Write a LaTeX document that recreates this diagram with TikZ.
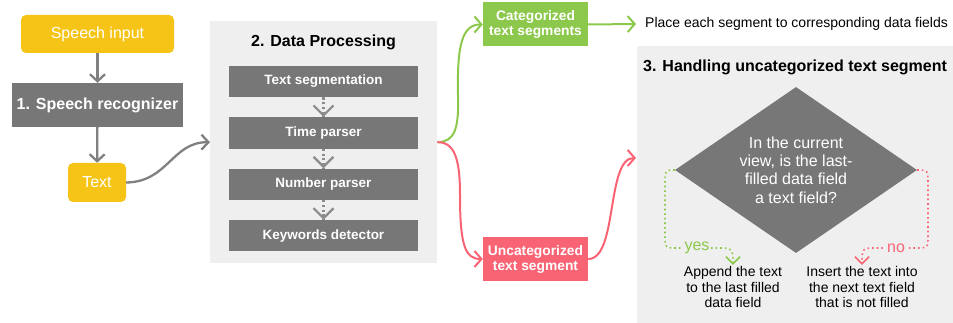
\documentclass[tikz,border=0pt]{standalone}
\usepackage{fontspec}
\setmainfont{Liberation Sans}
\usetikzlibrary{positioning, shapes.geometric, arrows.meta, calc, decorations.markings}

\definecolor{boxyellow}{HTML}{F6C416}
\definecolor{boxgray}{HTML}{777777}
\definecolor{panelgray}{HTML}{EFEFEF}
\definecolor{linegray}{HTML}{808080}
\definecolor{dotgray}{HTML}{8C8C8C}
\definecolor{catgreen}{HTML}{8CC84B}
\definecolor{uncatred}{HTML}{F96475}

\begin{document}
\begin{tikzpicture}[
  x=1pt, y=-1pt,
  font=\fontsize{16}{18}\selectfont,
  startbox/.style={
    rectangle,
    rounded corners=5pt,
    fill=boxyellow,
    text=white,
    inner sep=0pt,
  },
  stage/.style={
    rectangle,
    fill=boxgray,
    text=white,
    font=\fontsize{16}{18}\selectfont\bfseries,
    inner sep=0pt,
  },
  parser/.style={
    rectangle,
    fill=boxgray,
    text=white,
    font=\fontsize{13.5}{16}\selectfont\bfseries,
    minimum width=189pt,
    minimum height=31.5pt,
    inner sep=0pt,
  },
  panel/.style={rectangle, fill=panelgray, inner sep=0pt, anchor=north west},
  segbox/.style={
    rectangle,
    text=white,
    font=\fontsize{13.8}{15}\selectfont\bfseries,
    align=center,
    minimum width=105pt,
    minimum height=44pt,
    inner sep=0pt,
  },
  result/.style={align=center, font=\fontsize{14}{15.8}\selectfont, inner sep=1pt},
  flow/.style={draw=linegray, line width=2.3pt, -{Straight Barb[length=7pt,width=15pt]}},
  % dotted line, solid tip
  solidtip/.style={postaction={decorate, decoration={markings,
    mark=at position 1 with {\arrow[solid]{#1}}}}},
  stepflow/.style={draw=dotgray, line width=2.2pt, dash pattern=on 2.2pt off 2.5pt,
    solidtip={Straight Barb[length=10pt,width=20pt]}},
  catflow/.style={draw=catgreen, line width=2pt, -{Straight Barb[length=7pt,width=16pt]}},
  uncatflow/.style={draw=uncatred, line width=2pt, -{Straight Barb[length=7pt,width=16pt]}},
  branch/.style={line width=1.6pt, dash pattern=on 1.6pt off 3pt,
    solidtip={Straight Barb[length=7pt,width=14pt]}},
]
\useasboundingbox (0,0) rectangle (953,323);

% --- Speech recognition ---
\node[startbox, minimum width=153pt, minimum height=38pt] (speech) at (97.5,34) {Speech input};
\node[stage, minimum width=171pt, minimum height=44pt] (recog) at (97.5,105) {1. Speech recognizer};
\node[startbox, minimum width=58pt, minimum height=39pt] (text) at (97,182.5) {Text};
\draw[flow] (speech) -- (recog);
\draw[flow] (recog) -- (text);

% --- Data processing ---
\node[panel, minimum width=227pt, minimum height=242pt] (dp) at (210,21) {};
\node[font=\fontsize{16}{18}\selectfont\bfseries] (dptitle) at (323.5,42) {2. Data Processing};
\node[parser] (seg) at (323.5,81.5) {Text segmentation};
\node[parser, below=19.5pt of seg] (time) {Time parser};
\node[parser, below=19.5pt of time] (number) {Number parser};
\node[parser, below=19.5pt of number] (keywords) {Keywords detector};
\draw[stepflow] (seg) -- (time);
\draw[stepflow] (time) -- (number);
\draw[stepflow] (number) -- (keywords);
\draw[flow] (text.east) .. controls (168,182) and (172,142) .. (dp.west);

% --- Segments ---
\node[segbox, fill=catgreen] (cat) at (535.5,24.5) {Categorized\\text segments};
\node[segbox, fill=uncatred] (uncat) at (535.5,259) {Uncategorized\\text segment};
\node[anchor=west, inner sep=0pt, font=\fontsize{14}{16}\selectfont] (place) at (645,24)
  {Place each segment to corresponding data fields};
\coordinate (placein) at (636,24);
\draw[catflow] (dp.east) .. controls (455,142) and (459,128) .. (458,95)
  .. controls (457,45) and (462,24.5) .. (cat.west);
\draw[uncatflow] (dp.east) .. controls (455,142) and (460,160) .. (460,195)
  .. controls (460,245) and (465,259) .. (uncat.west);
\draw[catflow] (cat.east) -- (placein);

% --- Handling uncategorized text segment ---
\node[panel, minimum width=316pt, minimum height=277pt] (hp) at (637,46) {};
\node[anchor=west, inner sep=0pt, font=\fontsize{16}{18}\selectfont\bfseries] (hptitle) at (643,67)
  {3. Handling uncategorized text segment};
\coordinate (hpin) at (636,158);
\draw[uncatflow] (uncat.east) .. controls (618,259) and (606,158) .. (hpin);

\node[diamond, fill=boxgray, text=white, aspect=1.45, inner sep=0pt,
  minimum width=242pt, minimum height=166pt, align=center,
  font=\fontsize{16}{18.3}\selectfont] (ask) at (796,170)
  {In the current\\view, is the last-\\filled data field\\a text field?};
\node[result] (append) at (733,287) {Append the text\\to the last filled\\data field};
\node[result] (insert) at (862,287) {Insert the text into\\the next text field\\that is not filled};

% yes / no branches
\draw[branch, draw=catgreen] (ask.west) .. controls (665,170) .. (665,185) -- (665,236)
  .. controls (665,248) .. (678,248)
  -- node[fill=panelgray, inner sep=2pt, text=catgreen, font=\fontsize{16}{18}\selectfont] {yes} (716,248)
  .. controls (733,248) .. (append.north);
\draw[branch, draw=uncatred] (ask.east) .. controls (928,170) .. (928,185) -- (928,236)
  .. controls (928,248) .. (915,248)
  -- node[fill=panelgray, inner sep=2pt, text=uncatred, font=\fontsize{16}{18}\selectfont] {no} (877,248)
  .. controls (862,248) .. (insert.north);
\end{tikzpicture}
\end{document}
